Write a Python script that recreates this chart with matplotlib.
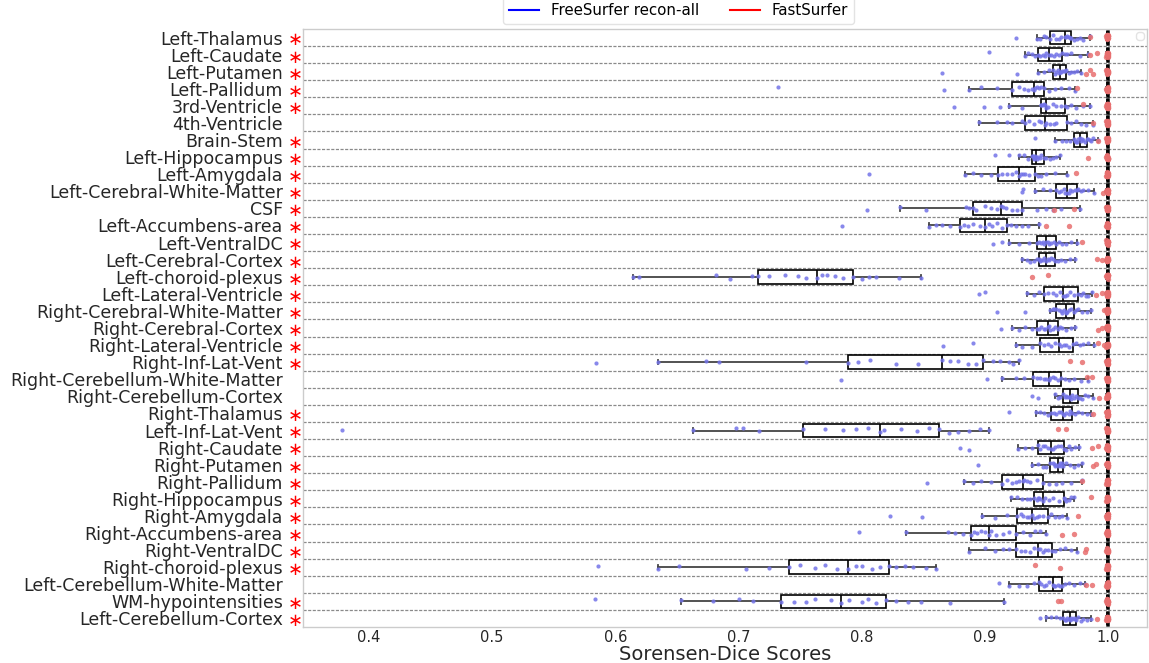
import numpy as np
import matplotlib
matplotlib.use("Agg")
import matplotlib.pyplot as plt
from matplotlib.lines import Line2D
from matplotlib.transforms import blended_transform_factory

# ---------------------------
# data
# ---------------------------
structures = [
    "Left-Thalamus", "Left-Caudate", "Left-Putamen", "Left-Pallidum",
    "3rd-Ventricle", "4th-Ventricle", "Brain-Stem", "Left-Hippocampus",
    "Left-Amygdala", "Left-Cerebral-White-Matter", "CSF", "Left-Accumbens-area",
    "Left-VentralDC", "Left-Cerebral-Cortex", "Left-choroid-plexus",
    "Left-Lateral-Ventricle", "Right-Cerebral-White-Matter", "Right-Cerebral-Cortex",
    "Right-Lateral-Ventricle", "Right-Inf-Lat-Vent", "Right-Cerebellum-White-Matter",
    "Right-Cerebellum-Cortex", "Right-Thalamus", "Left-Inf-Lat-Vent",
    "Right-Caudate", "Right-Putamen", "Right-Pallidum", "Right-Hippocampus",
    "Right-Amygdala", "Right-Accumbens-area", "Right-VentralDC",
    "Right-choroid-plexus", "Left-Cerebellum-White-Matter", "WM-hypointensities",
    "Left-Cerebellum-Cortex",
]

# significance marker per structure
significant = [
    True, True, True, True, True, False, True, True, True, True, True, True,
    True, True, True, True, True, True, True, True, False, False, True, True,
    True, True, True, True, True, True, True, True, False, True, True,
]

# FreeSurfer recon-all dice scores per structure
freesurfer = [
    [0.925, 0.942, 0.945, 0.948, 0.950, 0.953, 0.955, 0.958, 0.960, 0.962, 0.965, 0.966, 0.967, 0.968, 0.969, 0.970, 0.972, 0.975, 0.977, 0.980, 0.985],
    [0.903, 0.933, 0.935, 0.938, 0.941, 0.943, 0.945, 0.947, 0.949, 0.950, 0.952, 0.954, 0.956, 0.958, 0.960, 0.963, 0.965, 0.967, 0.970, 0.977, 0.984],
    [0.865, 0.926, 0.943, 0.948, 0.952, 0.955, 0.957, 0.958, 0.959, 0.960, 0.961, 0.962, 0.963, 0.964, 0.965, 0.966, 0.968, 0.970, 0.972, 0.975, 0.978],
    [0.732, 0.867, 0.887, 0.897, 0.910, 0.922, 0.928, 0.932, 0.935, 0.938, 0.940, 0.941, 0.942, 0.944, 0.946, 0.948, 0.952, 0.957, 0.962, 0.968, 0.973],
    [0.875, 0.899, 0.912, 0.920, 0.930, 0.9455, 0.946, 0.947, 0.948, 0.949, 0.950, 0.951, 0.955, 0.958, 0.962, 0.965, 0.967, 0.970, 0.974, 0.980, 0.985],
    [0.895, 0.910, 0.918, 0.922, 0.930, 0.933, 0.936, 0.940, 0.944, 0.946, 0.949, 0.950, 0.953, 0.956, 0.958, 0.967, 0.970, 0.974, 0.978, 0.982, 0.988],
    [0.941, 0.957, 0.963, 0.966, 0.969, 0.972, 0.973, 0.974, 0.975, 0.976, 0.977, 0.978, 0.979, 0.980, 0.981, 0.983, 0.984, 0.985, 0.986, 0.988, 0.992],
    [0.908, 0.920, 0.928, 0.932, 0.935, 0.938, 0.939, 0.940, 0.940, 0.941, 0.9415, 0.942, 0.943, 0.945, 0.946, 0.948, 0.950, 0.953, 0.955, 0.958, 0.961],
    [0.806, 0.884, 0.890, 0.897, 0.905, 0.911, 0.914, 0.918, 0.922, 0.925, 0.928, 0.929, 0.931, 0.933, 0.936, 0.941, 0.943, 0.946, 0.950, 0.957, 0.967],
    [0.930, 0.931, 0.941, 0.947, 0.953, 0.958, 0.960, 0.962, 0.964, 0.965, 0.967, 0.968, 0.969, 0.971, 0.973, 0.975, 0.976, 0.978, 0.980, 0.984, 0.989],
    [0.804, 0.831, 0.852, 0.885, 0.887, 0.890, 0.893, 0.900, 0.905, 0.910, 0.9135, 0.915, 0.917, 0.922, 0.926, 0.9305, 0.942, 0.950, 0.955, 0.962, 0.977],
    [0.784, 0.855, 0.860, 0.865, 0.872, 0.880, 0.883, 0.886, 0.890, 0.896, 0.900, 0.903, 0.906, 0.910, 0.914, 0.918, 0.921, 0.925, 0.930, 0.935, 0.944],
    [0.907, 0.914, 0.920, 0.928, 0.936, 0.942, 0.944, 0.946, 0.947, 0.948, 0.950, 0.951, 0.952, 0.954, 0.956, 0.9575, 0.960, 0.963, 0.966, 0.970, 0.975],
    [0.930, 0.934, 0.937, 0.940, 0.942, 0.944, 0.945, 0.946, 0.947, 0.948, 0.950, 0.951, 0.952, 0.954, 0.955, 0.957, 0.959, 0.962, 0.965, 0.969, 0.9735],
    [0.614, 0.619, 0.682, 0.693, 0.711, 0.716, 0.725, 0.738, 0.748, 0.755, 0.7635, 0.768, 0.772, 0.778, 0.785, 0.793, 0.800, 0.806, 0.812, 0.830, 0.8485],
    [0.895, 0.900, 0.934, 0.940, 0.944, 0.948, 0.951, 0.955, 0.958, 0.961, 0.9635, 0.965, 0.967, 0.969, 0.972, 0.976, 0.978, 0.980, 0.982, 0.984, 0.987],
    [0.910, 0.933, 0.953, 0.955, 0.956, 0.958, 0.960, 0.962, 0.963, 0.964, 0.9655, 0.966, 0.967, 0.968, 0.970, 0.9725, 0.974, 0.976, 0.979, 0.983, 0.9865],
    [0.913, 0.922, 0.928, 0.933, 0.938, 0.9425, 0.944, 0.946, 0.948, 0.949, 0.951, 0.952, 0.953, 0.955, 0.957, 0.959, 0.961, 0.963, 0.966, 0.970, 0.9735],
    [0.866, 0.8905, 0.925, 0.930, 0.938, 0.9445, 0.948, 0.951, 0.954, 0.957, 0.960, 0.962, 0.964, 0.966, 0.968, 0.9715, 0.974, 0.977, 0.980, 0.984, 0.9885],
    [0.584, 0.6345, 0.674, 0.684, 0.755, 0.789, 0.797, 0.807, 0.828, 0.846, 0.8655, 0.872, 0.878, 0.886, 0.893, 0.8985, 0.907, 0.912, 0.920, 0.923, 0.928],
    [0.783, 0.902, 0.914, 0.925, 0.932, 0.939, 0.942, 0.945, 0.948, 0.950, 0.952, 0.953, 0.955, 0.957, 0.959, 0.962, 0.965, 0.968, 0.972, 0.978, 0.984],
    [0.938, 0.943, 0.957, 0.959, 0.961, 0.9635, 0.965, 0.966, 0.967, 0.968, 0.969, 0.970, 0.971, 0.972, 0.974, 0.9755, 0.977, 0.979, 0.981, 0.984, 0.988],
    [0.920, 0.9415, 0.945, 0.948, 0.951, 0.954, 0.956, 0.958, 0.960, 0.962, 0.9635, 0.964, 0.966, 0.968, 0.969, 0.971, 0.973, 0.976, 0.979, 0.983, 0.9865],
    [0.378, 0.663, 0.698, 0.704, 0.717, 0.752, 0.770, 0.785, 0.795, 0.805, 0.815, 0.818, 0.832, 0.845, 0.855, 0.863, 0.871, 0.878, 0.887, 0.896, 0.903],
    [0.880, 0.887, 0.927, 0.933, 0.938, 0.943, 0.945, 0.947, 0.949, 0.951, 0.954, 0.955, 0.957, 0.959, 0.962, 0.9645, 0.966, 0.968, 0.970, 0.973, 0.9765],
    [0.8945, 0.9385, 0.943, 0.947, 0.950, 0.953, 0.955, 0.956, 0.957, 0.958, 0.9595, 0.960, 0.961, 0.962, 0.963, 0.9635, 0.966, 0.969, 0.972, 0.976, 0.979],
    [0.853, 0.883, 0.890, 0.897, 0.905, 0.914, 0.918, 0.922, 0.925, 0.928, 0.931, 0.932, 0.934, 0.937, 0.942, 0.947, 0.952, 0.958, 0.963, 0.970, 0.979],
    [0.921, 0.926, 0.930, 0.934, 0.937, 0.940, 0.942, 0.943, 0.944, 0.945, 0.947, 0.949, 0.952, 0.955, 0.960, 0.964, 0.965, 0.966, 0.968, 0.970, 0.9725],
    [0.823, 0.849, 0.898, 0.908, 0.918, 0.9265, 0.929, 0.931, 0.934, 0.936, 0.9385, 0.940, 0.942, 0.944, 0.947, 0.9515, 0.954, 0.957, 0.960, 0.963, 0.967],
    [0.798, 0.836, 0.870, 0.876, 0.882, 0.8885, 0.891, 0.894, 0.897, 0.900, 0.9035, 0.905, 0.909, 0.915, 0.920, 0.925, 0.931, 0.937, 0.941, 0.945, 0.950],
    [0.887, 0.900, 0.908, 0.915, 0.920, 0.9255, 0.929, 0.933, 0.937, 0.940, 0.9435, 0.945, 0.947, 0.949, 0.951, 0.9545, 0.957, 0.961, 0.965, 0.970, 0.9745],
    [0.586, 0.6345, 0.652, 0.706, 0.725, 0.741, 0.750, 0.762, 0.770, 0.780, 0.789, 0.795, 0.800, 0.808, 0.815, 0.8225, 0.828, 0.835, 0.842, 0.852, 0.860],
    [0.9115, 0.920, 0.928, 0.934, 0.940, 0.944, 0.946, 0.948, 0.950, 0.952, 0.955, 0.956, 0.957, 0.959, 0.961, 0.963, 0.965, 0.968, 0.972, 0.977, 0.981],
    [0.5835, 0.653, 0.679, 0.700, 0.712, 0.7345, 0.745, 0.755, 0.762, 0.775, 0.783, 0.790, 0.800, 0.805, 0.812, 0.8195, 0.828, 0.838, 0.848, 0.872, 0.9155],
    [0.9445, 0.9495, 0.954, 0.958, 0.961, 0.9635, 0.965, 0.966, 0.967, 0.968, 0.969, 0.970, 0.971, 0.972, 0.973, 0.974, 0.976, 0.978, 0.980, 0.983, 0.986],
]

# FastSurfer: nearly all subjects sit right at 1.0, plus a few lower ones per row
fastsurfer_core = [0.9986, 0.9988, 0.9990, 0.9991, 0.9992, 0.9993, 0.9994, 0.9995,
                   0.9995, 0.9996, 0.9997, 0.9997, 0.9998, 0.9999, 1.0]
fastsurfer_low = [
    [0.985], [0.985, 0.991], [0.982, 0.985, 0.988], [0.975], [0.980], [0.988],
    [0.992], [0.984], [0.974], [0.996], [0.956, 0.972], [0.950, 0.968],
    [0.979], [0.991, 0.995], [0.938, 0.951], [0.990, 0.995], [0.997],
    [0.992, 0.995], [0.992, 0.997], [0.9695, 0.979], [0.983, 0.987], [0.993],
    [0.988], [0.9595, 0.966], [0.987, 0.992], [0.988, 0.990], [0.979],
    [0.986], [0.976], [0.963, 0.972], [0.981, 0.982], [0.941, 0.961],
    [0.982, 0.987], [0.959, 0.962], [0.991],
]

x_ticks = [0.4, 0.5, 0.6, 0.7, 0.8, 0.9, 1.0]

# ---------------------------
# figure
# ---------------------------
plt.rcParams["font.family"] = "DejaVu Sans"

fig = plt.figure(figsize=(11.49, 6.63), dpi=100)
ax = fig.add_axes([0.2637, 0.0543, 0.7346, 0.902])

positions = np.arange(len(structures))
fastsurfer = [fastsurfer_core + low for low in fastsurfer_low]

box_style = dict(
    orientation="horizontal", positions=positions, widths=0.8,
    showfliers=False, patch_artist=True, manage_ticks=False,
    boxprops=dict(facecolor="white", edgecolor="black", linewidth=1.2),
    medianprops=dict(color="black", linewidth=1.2),
    whiskerprops=dict(color="#444444", linewidth=1.3),
    capprops=dict(color="#444444", linewidth=1.3),
    capwidths=0.25,
)
ax.boxplot(freesurfer, zorder=2, **box_style)
box_style["boxprops"] = dict(facecolor="white", edgecolor="black", linewidth=1.8)
ax.boxplot(fastsurfer, zorder=2, **box_style)

# strip points with a small vertical jitter
rng = np.random.default_rng(7)
for i, (fs, fast) in enumerate(zip(freesurfer, fastsurfer)):
    ax.scatter(fs, i + rng.uniform(-0.13, 0.13, len(fs)), s=9,
               color="#7373e8", alpha=0.85, linewidths=0, zorder=3)
    ax.scatter(fast, i + rng.uniform(-0.13, 0.13, len(fast)), s=15,
               color="#e86f6f", alpha=0.85, linewidths=0, zorder=3)

# dashed separators between rows
for y in positions[:-1]:
    ax.axhline(y + 0.5, color="#8a8a8a", linestyle=(0, (2.5, 1.2)),
               linewidth=0.9, zorder=1)

ax.set_ylim(len(structures) - 0.5, -0.5)
ax.set_xlim(0.3464, 1.0317)
ax.set_yticks(positions)
ax.set_yticklabels(structures, fontsize=12.5, color="#262626")
ax.set_xticks(x_ticks)
ax.set_xticklabels([f"{t:.1f}" for t in x_ticks], fontsize=10.5, color="#262626")
ax.tick_params(axis="y", length=0, pad=14.5)
ax.tick_params(axis="x", length=0, pad=2)
ax.set_xlabel("Sorensen-Dice Scores", fontsize=14, color="#262626", labelpad=0)

for side in ax.spines.values():
    side.set_color("#cccccc")
    side.set_linewidth(1.0)

# red significance stars next to the labels
star_tf = blended_transform_factory(ax.transAxes, ax.transData)
for i, sig in enumerate(significant):
    if sig:
        ax.text(-0.0092, i + 0.17, "\u2217", transform=star_tf, ha="center",
                va="center", color="red", fontsize=13)

handles = [
    Line2D([], [], color="blue", linewidth=1.5, label="FreeSurfer recon-all"),
    Line2D([], [], color="red", linewidth=1.5, label="FastSurfer"),
]
leg = ax.legend(handles=handles, loc="lower center", bbox_to_anchor=(0.445, 1.0),
                ncol=2, fontsize=10.8, frameon=True, edgecolor="#dddddd",
                borderaxespad=0.33, columnspacing=2.0)
ax.add_artist(leg)
ax.legend(handles=[], loc="upper right", frameon=True, edgecolor="#dddddd",
          borderaxespad=0.2, borderpad=0.3)

fig.savefig("out.png", dpi=100)
